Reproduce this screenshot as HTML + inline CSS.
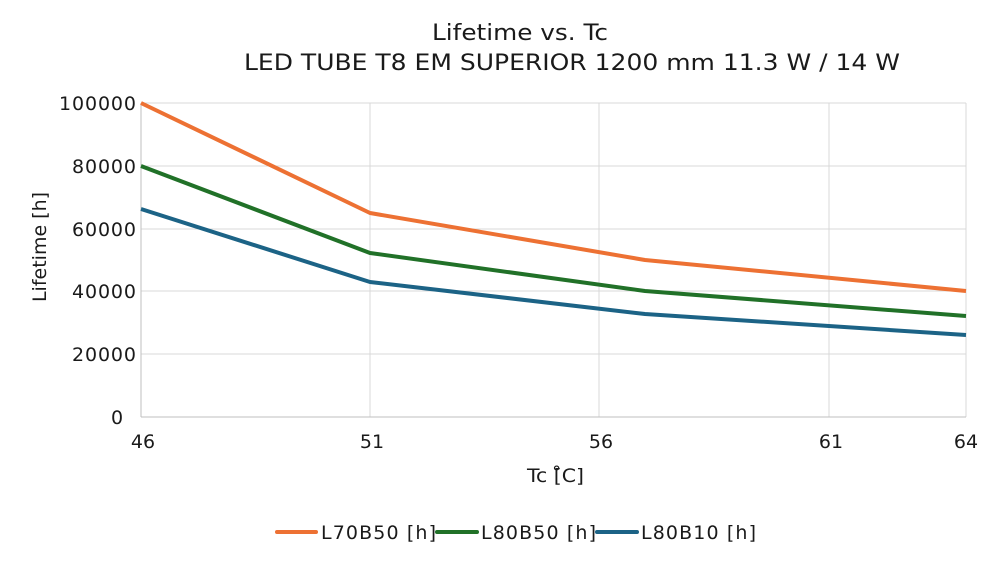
<!DOCTYPE html>
<html><head><meta charset="utf-8"><style>body{margin:0;background:#fff}svg{display:block}text{font-family:"DejaVu Sans","Liberation Sans",sans-serif;fill:#1a1a1a}</style></head>
<body>
<svg width="1000" height="564" viewBox="0 0 1000 564">
<text x="432" y="40" font-size="22" textLength="176" lengthAdjust="spacingAndGlyphs">Lifetime vs. Tc</text>
<text x="244" y="70" font-size="22" textLength="656" lengthAdjust="spacingAndGlyphs">LED TUBE T8 EM SUPERIOR 1200 mm 11.3 W / 14 W</text>
<g stroke="#d9d9d9" stroke-width="1">
<line x1="141" y1="103" x2="966" y2="103"/><line x1="141" y1="166" x2="966" y2="166"/><line x1="141" y1="229" x2="966" y2="229"/><line x1="141" y1="291" x2="966" y2="291"/><line x1="141" y1="354" x2="966" y2="354"/>
<line x1="370" y1="103" x2="370" y2="417"/><line x1="599" y1="103" x2="599" y2="417"/><line x1="829" y1="103" x2="829" y2="417"/><line x1="966" y1="103" x2="966" y2="417"/>
</g>
<g stroke="#bfbfbf" stroke-width="1"><line x1="141" y1="103" x2="141" y2="417"/><line x1="141" y1="417" x2="966" y2="417"/></g>
<g font-size="19" lengthAdjust="spacingAndGlyphs">
<text x="59" y="110" textLength="77">100000</text><text x="72" y="173" textLength="64">80000</text><text x="72" y="236" textLength="64">60000</text><text x="72" y="298" textLength="64">40000</text><text x="72" y="361" textLength="64">20000</text><text x="111" y="424" textLength="13">0</text>
</g>
<g font-size="19" text-anchor="middle">
<text x="143" y="448">46</text><text x="372" y="448">51</text><text x="601" y="448">56</text><text x="831" y="448">61</text><text x="966" y="448">64</text>
</g>
<text x="527" y="482" font-size="19" textLength="57" lengthAdjust="spacingAndGlyphs">Tc [̊C]</text>
<text transform="translate(46,247) rotate(-90)" font-size="19" text-anchor="middle">Lifetime [h]</text>
<g fill="none" stroke-width="4" stroke-linejoin="round">
<polyline stroke="#ed7133" points="141,103 370,213 645,260 966,291"/>
<polyline stroke="#217128" points="141,166 370,253 645,291 966,316"/>
<polyline stroke="#1c6386" points="141,209 370,282 645,314 966,335"/>
</g>
<g stroke-width="4" stroke-linecap="round">
<line x1="277" y1="532" x2="316" y2="532" stroke="#ed7133"/>
<line x1="437" y1="532" x2="477" y2="532" stroke="#217128"/>
<line x1="597" y1="532" x2="637" y2="532" stroke="#1c6386"/>
</g>
<g font-size="19" lengthAdjust="spacingAndGlyphs">
<text x="321" y="539" textLength="115">L70B50 [h]</text><text x="481" y="539" textLength="115">L80B50 [h]</text><text x="641" y="539" textLength="115">L80B10 [h]</text>
</g>
</svg>
</body></html>
